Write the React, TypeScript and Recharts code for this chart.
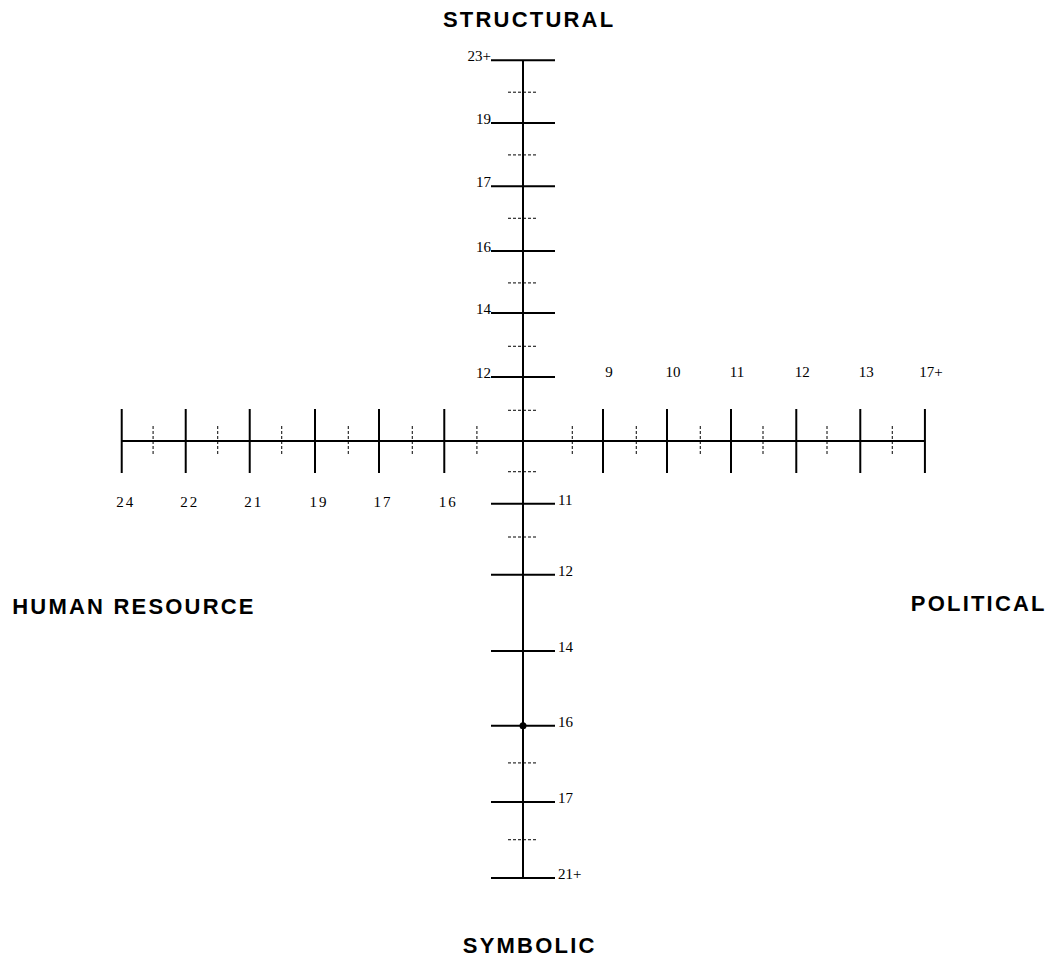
import React from "react";
import { ScatterChart, Scatter, XAxis, YAxis, ReferenceLine } from "recharts";

// positions along each arm are in scale steps (1 step = 64px on screen)
const structuralLabels = ["12", "14", "16", "17", "19", "23+"];
const structuralMajor = [1.0, 2.0, 2.97, 3.98, 4.97, 5.95];
const structuralMinor = [0.48, 1.48, 2.47, 3.48, 4.47, 5.45];

const symbolicLabels = ["11", "12", "14", "16", "17", "21+"];
const symbolicMajor = [0.98, 2.09, 3.28, 4.45, 5.64, 6.83];
const symbolicMinor = [0.48, 1.5, 5.03, 6.23];

const politicalLabels = ["9", "10", "11", "12", "13", "17+"];
const politicalMajor = [1.25, 2.25, 3.25, 4.27, 5.27, 6.28];
const politicalMinor = [0.77, 1.77, 2.77, 3.75, 4.75, 5.77];

const humanLabels = ["16", "17", "19", "21", "22", "24"];
const humanMajor = [1.23, 2.25, 3.25, 4.27, 5.27, 6.27];
const humanMinor = [0.72, 1.73, 2.73, 3.77, 4.77, 5.78];

const frameNames = ["STRUCTURAL", "POLITICAL", "SYMBOLIC", "HUMAN RESOURCE"];
const frameX = [-1.25, 6.06, -0.94, -7.98];
const frameY = [6.59, -2.53, -7.87, -2.58];

const markedScores = [{ arm: "down", label: "16" }];

type Arm = "up" | "down" | "left" | "right";

const place = (arm: Arm, v: number) => {
  if (arm === "up") return { x: 0, y: v };
  if (arm === "down") return { x: 0, y: -v };
  if (arm === "right") return { x: v, y: 0 };
  return { x: -v, y: 0 };
};

const buildArm = (arm: Arm, labels: string[], major: number[], minor: number[]) => [
  ...major.map((v, i) => ({ ...place(arm, v), arm, major: true, label: labels[i] })),
  ...minor.map((v) => ({ ...place(arm, v), arm, major: false, label: "" })),
];

const ticks = [
  ...buildArm("up", structuralLabels, structuralMajor, structuralMinor),
  ...buildArm("down", symbolicLabels, symbolicMajor, symbolicMinor),
  ...buildArm("right", politicalLabels, politicalMajor, politicalMinor),
  ...buildArm("left", humanLabels, humanMajor, humanMinor),
];

const markers = markedScores.map((m) => {
  const idx = symbolicLabels.indexOf(m.label);
  return place(m.arm as Arm, symbolicMajor[idx]);
});

const frames = frameNames.map((name, i) => ({ x: frameX[i], y: frameY[i], name }));

const serif = "'Liberation Serif', 'Times New Roman', serif";

const TickShape = (props: any) => {
  const { cx, cy, payload } = props;
  const { arm, major, label } = payload;
  const vertical = arm === "left" || arm === "right";
  const half = major ? 32 : 15;
  const line = vertical ? (
    <line x1={cx} x2={cx} y1={cy - half} y2={cy + half} stroke="#000" strokeWidth={major ? 2 : 1} strokeDasharray={major ? undefined : "3 2"} />
  ) : (
    <line x1={cx - half} x2={cx + half} y1={cy} y2={cy} stroke="#000" strokeWidth={major ? 2 : 1} strokeDasharray={major ? undefined : "3 2"} />
  );
  let text = null;
  if (label) {
    const common = { fontFamily: serif, fontSize: 15, fill: "#000" };
    if (arm === "up") text = <text x={cx - 32} y={cy + 1} textAnchor="end" {...common}>{label}</text>;
    else if (arm === "down") text = <text x={cx + 35} y={cy + 1} textAnchor="start" {...common}>{label}</text>;
    else if (arm === "right") text = <text x={cx + 6} y={cy - 64} textAnchor="middle" {...common}>{label}</text>;
    else text = <text x={cx + 4} y={cy + 66} textAnchor="middle" letterSpacing={2} {...common}>{label}</text>;
  }
  return (
    <g>
      {line}
      {text}
    </g>
  );
};

const FrameShape = (props: any) => {
  const { cx, cy, payload } = props;
  return (
    <text x={cx} y={cy + 8} textAnchor="start" fontFamily="'Liberation Sans', Arial, sans-serif" fontWeight="bold" fontSize={22} letterSpacing={2.2} fill="#000">
      {payload.name}
    </text>
  );
};

const DotShape = (props: any) => <circle cx={props.cx} cy={props.cy} r={3.5} fill="#000" />;

export default function App() {
  return (
    <div style={{ position: "absolute", left: 0, top: 0, background: "#fff" }}>
      <ScatterChart width={1053} height={960} margin={{ top: 5.8, right: 18, bottom: 7, left: 11 }}>
        <XAxis type="number" dataKey="x" domain={[-8, 8]} hide />
        <YAxis type="number" dataKey="y" domain={[-8, 6.8]} hide />
        <ReferenceLine segment={[{ x: -6.28, y: 0 }, { x: 6.28, y: 0 }]} stroke="#000" strokeWidth={2} />
        <ReferenceLine segment={[{ x: 0, y: 5.95 }, { x: 0, y: -6.83 }]} stroke="#000" strokeWidth={2} />
        <Scatter data={ticks} shape={TickShape} isAnimationActive={false} />
        <Scatter data={markers} shape={DotShape} isAnimationActive={false} />
        <Scatter data={frames} shape={FrameShape} isAnimationActive={false} />
      </ScatterChart>
    </div>
  );
}
